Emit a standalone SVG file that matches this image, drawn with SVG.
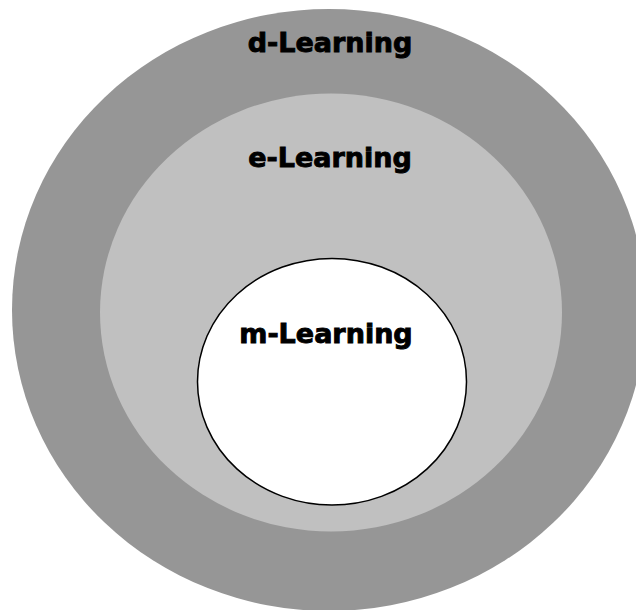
<svg xmlns="http://www.w3.org/2000/svg" width="636" height="610" viewBox="0 0 636 610">
  <style>
    .lbl { font-family: "DejaVu Sans", "Liberation Sans", sans-serif; font-weight: bold; font-size: 27px; fill: #000; stroke: #000; stroke-width: 0.9px; text-anchor: middle; }
  </style>
  <rect x="0" y="0" width="636" height="610" fill="#ffffff"/>
  <g id="d-learning">
    <ellipse cx="329" cy="310" rx="317" ry="301" fill="#969696"/>
    <text class="lbl" x="330" y="52">d-Learning</text>
  </g>
  <g id="e-learning">
    <ellipse cx="331" cy="312.5" rx="231" ry="219" fill="#c0c0c0"/>
    <text class="lbl" x="330" y="167">e-Learning</text>
  </g>
  <g id="m-learning">
    <ellipse cx="332" cy="381.7" rx="134.5" ry="123.3" fill="#ffffff" stroke="#000000" stroke-width="1.5"/>
    <text class="lbl" x="326" y="343">m-Learning</text>
  </g>
  <g id="connectors"></g>
</svg>
